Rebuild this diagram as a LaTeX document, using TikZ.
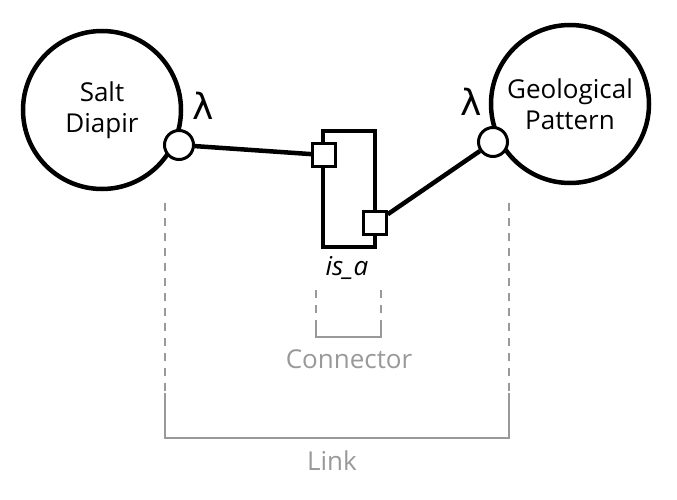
\documentclass[tikz,border=0pt]{standalone}
\usepackage{fontspec}
\setmainfont{Open Sans}
\newfontfamily\lambdafont{DejaVu Sans}
\usetikzlibrary{positioning}

\definecolor{linkgray}{HTML}{999999}

\tikzset{
  concept/.style={circle, draw, line width=4.5pt, minimum size=158pt, inner sep=0pt, align=center, font=\fontsize{26}{31}\selectfont},
  port/.style={circle, draw, fill=white, line width=3pt, minimum size=29pt, inner sep=0pt},
  pin/.style={rectangle, draw, fill=white, line width=2.5pt, minimum size=23pt, inner sep=0pt},
  body/.style={rectangle, draw, fill=white, line width=4.5pt, minimum width=52pt, minimum height=116pt, inner sep=0pt},
  wire/.style={line width=4.5pt},
  lambda/.style={font=\lambdafont\fontsize{36}{40}\selectfont, inner sep=0pt},
  grayline/.style={linkgray, line width=2.2pt},
  graytext/.style={linkgray, font=\fontsize{26}{30}\selectfont}
}

\begin{document}
\begin{tikzpicture}[x=1pt,y=-1pt]
  \useasboundingbox (0,0) rectangle (677,500);

  \node [concept] (salt) at (102,110) {Salt\\Diapir};
  \node [concept] (geo) at (570,104) {Geological\\Pattern};

  \node [port] (saltport) at (179,145) {};
  \node [port] (geoport) at (493,142) {};
  \node [lambda] (saltlambda) at (203,106) {λ};
  \node [lambda] (geolambda) at (471,102) {λ};

  \node [body] (isa) at (349,189) {};
  \node [pin] (isain) at (324,155) {};
  \node [pin] (isaout) at (375,223) {};
  \node [font=\fontsize{26}{30}\selectfont\itshape] (isalabel) at (347,268) {is\_a};

  \draw [wire] (saltport) -- (isain);
  \draw [wire] (isaout) -- (geoport);

  % connector bracket
  \coordinate (conntl) at (316,290);
  \coordinate (conntr) at (381,290);
  \coordinate (connbl) at (316,337);
  \coordinate (connbr) at (381,337);
  \draw [grayline, dash pattern=on 8pt off 7pt] (conntl) -- ([yshift=10pt]connbl);
  \draw [grayline, dash pattern=on 8pt off 7pt] (conntr) -- ([yshift=10pt]connbr);
  \draw [grayline] ([yshift=10pt]connbl) -- (connbl) -- (connbr) -- ([yshift=10pt]connbr);
  \node [graytext] (connlabel) at (349,359) {Connector};

  % link bracket
  \coordinate (linktl) at (165,203);
  \coordinate (linktr) at (509,203);
  \coordinate (linkbl) at (165,438);
  \coordinate (linkbr) at (509,438);
  \draw [grayline, dash pattern=on 8pt off 7pt] (linktl) -- ([yshift=45pt]linkbl);
  \draw [grayline, dash pattern=on 8pt off 7pt] (linktr) -- ([yshift=45pt]linkbr);
  \draw [grayline] ([yshift=45pt]linkbl) -- (linkbl) -- (linkbr) -- ([yshift=45pt]linkbr);
  \node [graytext] (linklabel) at (332,461) {Link};

\end{tikzpicture}
\end{document}
